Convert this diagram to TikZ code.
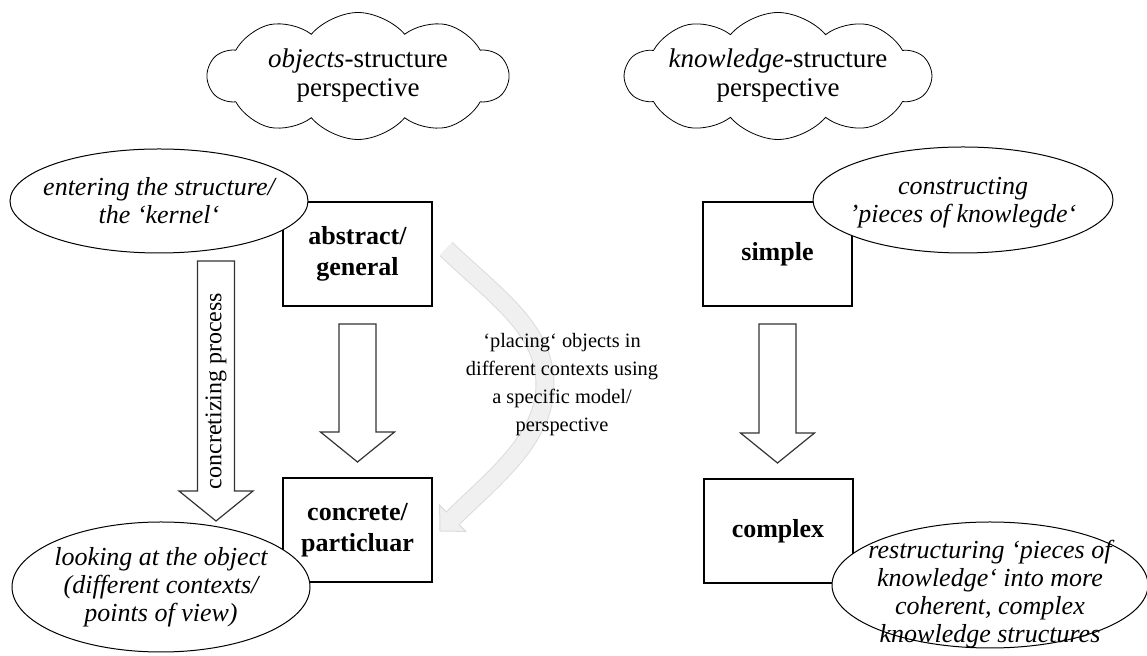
\documentclass[tikz,border=0pt]{standalone}
\usepackage{fontspec}
\setmainfont{Liberation Serif}
\usetikzlibrary{shapes.geometric,shapes.symbols,calc}

\tikzset{
  box/.style={draw, line width=1pt, minimum width=74.5pt, minimum height=52pt,
    align=center, font=\fontsize{13}{15.5}\selectfont\bfseries},
  ell/.style={draw, ellipse, fill=white, line width=.5pt, inner sep=0pt},
  elltext/.style={align=center, font=\fontsize{13}{14}\selectfont\itshape},
  puff/.style={draw, cloud, cloud puffs=10, cloud puff arc=100, cloud ignores aspect,
    minimum width=150pt, minimum height=63.5pt, inner sep=0pt, align=center,
    font=\fontsize{13.5}{14.5}\selectfont},
  fatline/.style={draw=black!80, line width=.6pt, fill=white},
  band/.style={line width=#1, line cap=butt},
}

% fat down arrow from #1 to tip #2
\newcommand\fatarrow[2]{%
  \draw[fatline] let \p1=(#1), \p2=(#2) in
    (\x1-9.25pt,\y1) -- (\x1+9.25pt,\y1) -- (\x1+9.25pt,\y2+15pt) -- (\x1+18.5pt,\y2+15pt)
    -- (\x1,\y2) -- (\x1-18.5pt,\y2+15pt) -- (\x1-9.25pt,\y2+15pt) -- cycle;}

\begin{document}
\begin{tikzpicture}[x=.5pt, y=-.5pt]
\useasboundingbox (0,0) rectangle (1147,656);

% clouds
\node[puff] (obj) at (358,76) {\textit{objects}-structure\\perspective};
\node[puff] (kno) at (778,76) {\textit{knowledge}-structure\\perspective};

% boxes
\node[box] (abs) at (357.5,254) {abstract/\\general};
\node[box] (con) at (357.5,530) {concrete/\\particluar};
\node[box] (sim) at (777.5,254) {simple};
\node[box] (cpx) at (778,531) {complex};

% fat arrows
\coordinate (a1s) at ([yshift=-8.5pt]abs.south);
\coordinate (a1e) at ([yshift=7.5pt]con.north);
\coordinate (a2s) at (216,261);
\coordinate (a2e) at (216,521);
\coordinate (a3s) at ([yshift=-8.5pt]sim.south);
\coordinate (a3e) at ([yshift=7.5pt]cpx.north);
\fatarrow{a1s}{a1e}
\fatarrow{a2s}{a2e}
\fatarrow{a3s}{a3e}
\node[rotate=90, font=\fontsize{12}{14}\selectfont] (cpr) at (216,391) {concretizing process};

% curved grey arrow
\draw[band=9.5pt, draw=black!14] (446,249) .. controls (500,300) and (545,330) .. (545,385)
  .. controls (545,440) and (490,481) .. (451.3,519.7);
\draw[draw=black!14, fill=black!6, line width=.5pt] (440,531) -- (465.8,531.4) -- (439.6,505.2) -- cycle;
\draw[band=8.5pt, draw=black!6] (446,249) .. controls (500,300) and (545,330) .. (545,385)
  .. controls (545,440) and (490,481) .. (451.3,519.7);
\node[align=center, font=\fontsize{10.2}{14}\selectfont] (plc) at (562,385)
  {‘placing‘ objects in\\different contexts using\\a specific model/\\perspective};

% ellipses
\node[ell, minimum width=149pt, minimum height=52pt] (ent) at (159,201) {};
\node[elltext] (entt) at (ent) {entering the structure/\\the ‘kernel‘};
\node[ell, minimum width=149pt, minimum height=65pt] (look) at (161,587) {};
\node[elltext] (lookt) at (look) {looking at the object\\(different contexts/\\points of view)};
\node[ell, minimum width=150pt, minimum height=53pt] (cons) at (963,200) {};
\node[elltext] (const) at ([yshift=-1.5pt]cons) {constructing\\’pieces of knowlegde‘};
\node[ell, minimum width=158pt, minimum height=63pt] (rest) at (990,585) {};
\node[elltext] (restt) at ([yshift=-4.5pt]rest) {restructuring ‘pieces of\\knowledge‘ into more\\coherent, complex\\knowledge structures};
\end{tikzpicture}
\end{document}
